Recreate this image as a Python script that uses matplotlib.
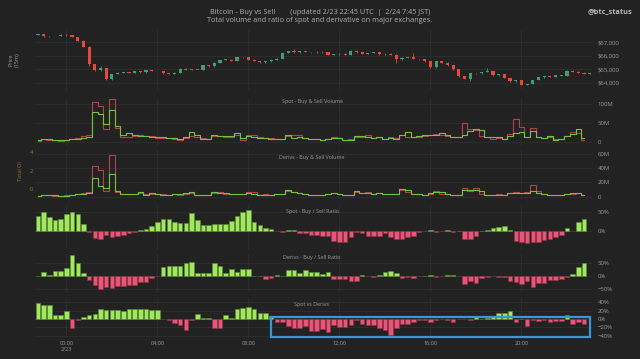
"""
Bitcoin buy vs sell dashboard: price candles, spot / derivs volume,
buy/sell ratios and spot-vs-derivs, 15 minute bars.
"""

import matplotlib
matplotlib.use("Agg")
import matplotlib.pyplot as plt
from matplotlib.patches import Rectangle
import numpy as np

# ---------------------------------------------------------------------------
# Data (15m bars starting 2/22 22:45 UTC)
# ---------------------------------------------------------------------------
price_close = [
    67590, 67440, 67480, 67460, 67560, 67520, 67390, 67120, 66680, 65400,
    64960, 65080, 64320, 64670, 64760, 64790, 64740, 64860, 64790, 64940,
    64900, 64880, 64720, 64700, 64770, 65060, 64990, 64970, 64960, 65300,
    65230, 65500, 65700, 65720, 65620, 65890, 65910, 65720, 65620, 65530,
    65600, 65720, 65800, 66240, 66340, 66260, 66340, 66290, 66260, 66310,
    66260, 66090, 66120, 66160, 66090, 66390, 66260, 66160, 66210, 66290,
    66120, 66160, 66090, 65750, 65870, 65890, 65770, 65750, 65600, 65160,
    65600, 65500, 65300, 65010, 64490, 64320, 64740, 64710, 64810, 64860,
    64570, 64640, 64370, 64130, 64220, 63880, 63930, 64220, 64420, 64490,
    64470, 64570, 64520, 64910, 64840, 64760, 64690, 64710,
]
first_open = 67570
price_high = [
    67610, 67610, 67500, 67500, 67580, 67580, 67540, 67400, 67140, 66700,
    65420, 65230, 65100, 64690, 64800, 64820, 64810, 64880, 64880, 64960,
    64960, 64920, 64900, 64740, 64790, 65080, 65080, 65010, 64990, 65320,
    65320, 65520, 65720, 65760, 65740, 65910, 65940, 65930, 65740, 65640,
    65620, 65740, 65820, 66260, 66360, 66480, 66370, 66360, 66310, 66330,
    66330, 66280, 66140, 66180, 66180, 66410, 66410, 66280, 66230, 66310,
    66310, 66180, 66180, 66110, 65890, 65920, 66190, 65790, 65770, 65620,
    65620, 65620, 65520, 65320, 65030, 64510, 64760, 64760, 64830, 65110,
    64880, 64660, 64660, 64390, 64240, 64240, 63960, 64240, 64440, 64510,
    64510, 64590, 64590, 64930, 64930, 64860, 64780, 64730,
]
price_low = [
    67550, 67420, 67420, 67440, 67440, 67500, 67370, 67100, 66650, 65230,
    64900, 64900, 64200, 64250, 64640, 64740, 64720, 64720, 64770, 64770,
    64880, 64860, 64700, 64680, 64680, 64750, 64970, 64950, 64940, 64940,
    65210, 65210, 65480, 65680, 65600, 65600, 65870, 65700, 65600, 65510,
    65510, 65580, 65700, 65780, 66220, 66240, 66240, 66270, 66240, 66240,
    66240, 66070, 66070, 66100, 66070, 66070, 66240, 66140, 66140, 66190,
    66100, 66100, 66070, 65500, 65730, 65850, 65750, 65730, 65580, 65140,
    65140, 65480, 65280, 64990, 64470, 64300, 64130, 64690, 64690, 64790,
    64550, 64550, 64350, 64110, 64110, 63860, 63820, 63910, 64200, 64400,
    64450, 64450, 64500, 64500, 64820, 64740, 64670, 64670,
]

spot_buy = [
    5, 9, 7, 5, 4, 4.5, 7, 8, 11.5, 14, 79, 74, 48, 83, 42, 19.5, 24, 18,
    17, 16, 14, 13, 12, 11.5, 10, 8, 12.4, 27.4, 18.6, 7, 8, 18, 17, 15,
    15, 24, 10.6, 15, 13, 10.6, 10.6, 8.8, 8, 8.8, 19.5, 10.6, 12.4, 10.6,
    8, 7, 5.3, 8, 10.6, 9.7, 5.3, 6.2, 16.8, 15, 14, 11.5, 14, 8.8, 11.5,
    8.8, 17.7, 26.5, 14, 16.8, 17.7, 17.7, 19.5, 23, 17.7, 14, 13, 19.5,
    30, 33.6, 32.7, 13, 13, 12.4, 8.8, 16.8, 24, 27.4, 12.4, 28.3, 13,
    10.6, 15, 6.2, 8, 16.8, 21, 34.5, 10.6,
]
spot_sell = [
    3.5, 7, 6, 5, 3.5, 4, 8, 10.6, 16, 17.7, 106, 95, 35, 112, 38, 14, 13,
    15, 18, 16, 16, 11, 11.5, 10.6, 9, 6, 10, 17, 14, 10.6, 9, 15, 16, 14,
    13, 18, 5.3, 19.5, 19.5, 12, 9.7, 9.7, 8.8, 8, 15, 18.6, 19.5, 9.7, 7,
    7, 6.2, 8.8, 13, 10.6, 6.2, 7, 14, 13, 17.7, 9.7, 12.4, 8.8, 14, 11.5,
    19.5, 14, 13, 12.4, 16.8, 17.7, 21, 19.5, 15, 14, 13, 51, 33, 32, 15,
    12.4, 8.8, 11.5, 8, 21, 61, 39, 13, 37, 12.4, 10.6, 13, 7, 8.8, 15,
    25.7, 24, 6.2,
]

derivs_buy = [
    1.4, 1.9, 1.9, 1.9, 1.4, 1.4, 2.8, 3.3, 4.2, 5.1, 26.5, 14.4, 12.1,
    32.1, 7.4, 4.2, 3.7, 3.3, 6.0, 2.8, 5.1, 3.7, 2.8, 2.8, 3.7, 3.3, 5.1,
    6.0, 2.8, 2.3, 2.3, 7.0, 4.7, 5.1, 3.7, 4.2, 3.7, 5.6, 4.2, 2.8, 2.8,
    2.8, 4.2, 3.7, 9.3, 6.0, 4.7, 3.7, 2.8, 1.9, 2.3, 3.3, 4.7, 3.7, 2.8,
    2.8, 7.4, 5.6, 5.1, 4.2, 5.6, 3.3, 3.7, 4.2, 10.2, 9.3, 4.2, 3.7, 2.8,
    4.7, 6.5, 6.0, 3.3, 2.8, 2.8, 9.8, 9.8, 9.3, 8.4, 2.8, 2.8, 2.8, 2.8,
    5.1, 5.1, 5.6, 5.1, 7.4, 5.6, 4.2, 2.8, 2.8, 2.8, 4.2, 4.7, 5.6, 1.9,
]
derivs_sell = [
    1.4, 1.9, 1.9, 1.4, 1.4, 1.9, 2.8, 3.7, 5.1, 6.0, 42.3, 37.7, 8.4,
    58.6, 7.0, 4.2, 3.3, 3.7, 5.1, 3.3, 4.2, 4.2, 3.3, 2.8, 4.2, 2.8, 4.2,
    5.6, 2.8, 2.8, 2.3, 5.6, 6.0, 4.2, 3.7, 4.2, 3.3, 6.5, 6.0, 2.8, 3.3,
    2.8, 3.7, 3.7, 7.4, 6.0, 4.7, 3.7, 2.8, 2.3, 2.3, 3.3, 5.6, 3.7, 2.8,
    2.8, 6.5, 5.6, 6.5, 4.2, 4.7, 3.3, 3.7, 4.2, 9.3, 6.5, 4.2, 3.7, 2.8,
    4.2, 7.4, 4.2, 3.3, 2.8, 2.8, 11.6, 8.4, 12.6, 4.2, 2.8, 2.8, 4.2, 2.8,
    5.6, 6.0, 5.1, 6.0, 16.7, 7.4, 3.7, 2.8, 2.8, 2.8, 3.7, 4.2, 5.1, 1.9,
]

spot_ratio = [
    38, 50, 37, 29, 30, 45, 51, 44, 17, -4, -20, -21, -12, -17, -13, -12,
    -6, -4, 2, 4, 13, 22, 31, 32, 24, 20, 20, 46, 28, 16, 16, 19, 18, 19,
    25, 38, 49, 54, 23, 14, 6, 4, -1, -4, 3, 1, -5, -7, -12, -12, -14, -14,
    -28, -29, -29, -17, -4, -5, -13, -13, -13, -7, -16, -21, -21, -17, -15,
    -3, -2, 1, -3, -1, 1, -3, 0.5, -23, -21, -14, 0.5, 3, 8, 11, 12, 2,
    -28, -30, -32, -31, -29, -25, -21, -17, -12, 7, -1, 24, 31,
]
derivs_ratio = [
    1, 14, 5, 18, 20, 29, 77, 50, 12, -14, -33, -47, -40, -44, -38, -36,
    -35, -32, -23, -22, -8, -1, 35, 37, 36, 36, 49, 53, 13, 13, 13, 47, 39,
    10, 26, 15, 27, 28, 1, 0.5, -10, -8, 5, 1, 23, 23, 13, 22, 15, 15, 8,
    14, -13, -13, -12, -18, -18, 4, -1, -3, 4, 14, 20, 10, -9, -5, -8, -1,
    0.5, 5, -4, -1, 3, 3, -1, -31, -20, -26, -6, -3, -1, -5, -4, -17, -24,
    -31, -18, -42, -27, -26, -15, -14, -10, -5, 9, 33, 47,
]
spot_vs_derivs = [
    37, 34, 33, 10, 10, 18, -22, -3, 5, 10, 12, 24, 22, 22, 21, 19, 24, 24,
    24, 24, 21, 22, -1, -3, -9, -15, -26, -3, 13, 3, 2, -22, -21, 9, 3, 25,
    27, 29, 23, 15, 15, 7, -6, -6, -16, -22, -21, -16, -28, -28, -24, -30,
    -14, -18, -20, -14, -3, -12, -14, -14, -21, -25, -37, -21, -12, -13,
    -6, -2, -3, -6, -2, -1, -2, -6, -1, -1, -3, 8, 0.5, 2, 7, 14, 14, 18,
    -6, 0.5, -16, -3, -4, -2, -6, -5, -4, 10, -11, -7, -13,
]

tick_hours = [0, 4, 8, 12, 16, 20]
tick_labels = ["00:00\n2/23", "04:00", "08:00", "12:00", "16:00", "20:00"]

# ---------------------------------------------------------------------------
# Styling
# ---------------------------------------------------------------------------
BG = "#222222"
GRID = "#2e2e2e"
TXT = "#9c9c9c"
OLIVE = "#8a7a34"
UP_C, DOWN_C = "#3f9e76", "#e8473d"
BUY_C, SELL_C = "#72c340", "#b4424b"
POS_C, POS_E = "#a0e85e", "#5a8c33"
NEG_C, NEG_E = "#ea5577", "#8e3447"
BOX_C = "#3b95d9"

plt.rcParams.update({
    "font.family": ["Open Sans", "DejaVu Sans"],
    "font.size": 4.5,
})

W_PX, H_PX = 640, 359
X0_PX, X1_PX = 35, 592
XLIM = (-1.38, 23.1)

fig = plt.figure(figsize=(6.4, 3.59), dpi=100, facecolor=BG)

t_candle = np.arange(len(price_close)) * 0.25 - 1.25
t_bar = np.arange(len(spot_buy)) * 0.25 - 1.25


def panel(top, bottom, ylim, yticks, ylabels):
    ax = fig.add_axes([X0_PX / W_PX, 1 - bottom / H_PX,
                       (X1_PX - X0_PX) / W_PX, (bottom - top) / H_PX])
    ax.set_facecolor(BG)
    ax.set_xlim(*XLIM)
    ax.set_ylim(*ylim)
    ax.set_xticks(tick_hours)
    ax.set_xticklabels([])
    ax.set_yticks(yticks)
    ax.set_yticklabels(ylabels)
    ax.yaxis.tick_right()
    ax.tick_params(axis="both", length=0, colors=TXT, labelsize=4.3, pad=4)
    ax.grid(True, color=GRID, lw=0.6)
    ax.set_axisbelow(True)
    for s in ax.spines.values():
        s.set_visible(False)
    return ax


def ratio_bars(ax, vals):
    vals = np.asarray(vals, dtype=float)
    pos = vals >= 0
    ax.bar(t_bar, vals, width=0.2,
           color=np.where(pos, POS_C, NEG_C),
           edgecolor=np.where(pos, POS_E, NEG_E), linewidth=0.4, zorder=3)


# --- price candles ---------------------------------------------------------
ax1 = panel(30, 90, (63484, 67906), [64000, 65000, 66000, 67000],
            ["$64,000", "$65,000", "$66,000", "$67,000"])
close = np.array(price_close, dtype=float)
opn = np.concatenate([[first_open], close[:-1]])
up = close >= opn
ccol = np.where(up, UP_C, DOWN_C)
ax1.vlines(t_candle, price_low, price_high, colors=ccol, lw=0.6, zorder=3)
body = np.maximum(np.abs(close - opn), 40)
ax1.bar(t_candle, body, bottom=np.minimum(close, opn), width=0.14,
        color=ccol, linewidth=0, zorder=4)
fig.text(14 / W_PX, 1 - 60 / H_PX, "Price\n(15m)", rotation=90,
         ha="center", va="center", color=TXT, fontsize=4, linespacing=1.2)

# --- spot volume -----------------------------------------------------------
ax2 = panel(98, 146, (-10.5, 115.8), [0, 50, 100], ["0", "50M", "100M"])
ax2.plot(t_bar, spot_sell, drawstyle="steps-mid", color=SELL_C, lw=0.8, zorder=3)
ax2.plot(t_bar, spot_buy, drawstyle="steps-mid", color=BUY_C, lw=0.8, zorder=4)

# --- derivs volume ---------------------------------------------------------
ax3 = panel(150, 199, (-3.2, 65.2), [0, 20, 40, 60], ["0", "20M", "40M", "60M"])
ax3.plot(t_bar, derivs_sell, drawstyle="steps-mid", color=SELL_C, lw=0.8, zorder=3)
ax3.plot(t_bar, derivs_buy, drawstyle="steps-mid", color=BUY_C, lw=0.8, zorder=4)
ax3b = ax3.twinx()
ax3.yaxis.tick_right()  # twinx moves the host ticks to the left
ax3b.set_ylim(-1.05, 4.25)
ax3b.set_yticks([0, 2, 4])
ax3b.yaxis.tick_left()
ax3b.tick_params(axis="y", length=0, colors=OLIVE, labelsize=4.3, pad=1)
for s in ax3b.spines.values():
    s.set_visible(False)
fig.text(21 / W_PX, 1 - 171 / H_PX, "Total OI", rotation=90,
         ha="center", va="center", color=OLIVE, fontsize=4)

# --- ratios ----------------------------------------------------------------
ax4 = panel(205, 250, (-51.6, 68.7), [0, 50], ["0%", "50%"])
ratio_bars(ax4, spot_ratio)

ax5 = panel(254, 292, (-59.9, 82.4), [-50, 0, 50], ["\u221250%", "0%", "50%"])
ratio_bars(ax5, derivs_ratio)

ax6 = panel(298, 338, (-45.2, 50), [-40, -20, 0, 20, 40],
            ["\u221240%", "\u221220%", "0%", "20%", "40%"])
ratio_bars(ax6, spot_vs_derivs)
ax6.set_xticklabels(tick_labels)
ax6.tick_params(axis="x", pad=2, labelsize=4)
ax6.add_patch(Rectangle((9.0, -42), 14.0, 47.5, fill=False, ec=BOX_C,
                        lw=1.6, clip_on=False, zorder=6))

# --- titles ----------------------------------------------------------------
sub_titles = [
    (101.7, "Spot - Buy & Sell Volume"),
    (157, "Derivs - Buy & Sell Volume"),
    (212, "Spot - Buy / Sell Ratio"),
    (258, "Derivs - Buy / Sell Ratio"),
    (304.3, "Spot vs Derivs"),
]
for y, s in sub_titles:
    fig.text(312 / W_PX, 1 - y / H_PX, s, ha="center", va="center",
             color=TXT, fontsize=3.9, zorder=10)

fig.text(320 / W_PX, 1 - 12 / H_PX,
         "Bitcoin - Buy vs Sell        (updated 2/23 22:45 UTC  |  2/24 7:45 JST)",
         ha="center", va="center", color="#b0b0b0", fontsize=5.2)
fig.text(320 / W_PX, 1 - 20.7 / H_PX,
         "Total volume and ratio of spot and derivative on major exchanges.",
         ha="center", va="center", color="#b0b0b0", fontsize=5.2)
fig.text(632 / W_PX, 1 - 12 / H_PX, "@btc_status", ha="right", va="center",
         color="#b8b8b8", fontsize=5.3, fontweight="bold")

fig.savefig("out.png", dpi=100, facecolor=BG)
